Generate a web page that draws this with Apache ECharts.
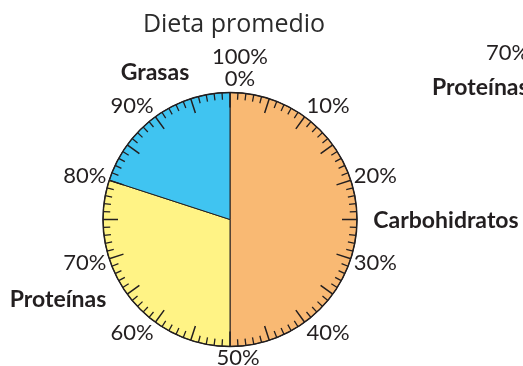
<!DOCTYPE html>
<html>
<head>
<meta charset="utf-8">
<script src="https://cdn.jsdelivr.net/npm/echarts@6/dist/echarts.min.js"></script>
<style>html,body{margin:0;padding:0;background:#fff}#c{width:523px;height:366px}</style>
</head>
<body>
<div id="c"></div>
<script>
const categories = ['Carbohidratos', 'Proteínas', 'Grasas'];
const values = [50, 30, 20];
const colors = ['#F9B973', '#FFF385', '#40C4F1'];
const tickValues = [0, 10, 20, 30, 40, 50, 60, 70, 80, 90];
const labelPos = [[446, 221], [58, 300], [155, 73]];
const sideTexts = [{text: '70%', x: 486, y: 55, bold: false}, {text: 'Proteínas', x: 432, y: 89, bold: true}];

const C = [230, 219.5], R = 127;
const ink = '#231f20';
const FS = 22;
const chart = echarts.init(document.getElementById('c'));
chart.setOption({
  animation: false,
  title: {text: 'Dieta promedio', left: 229, top: 7, textAlign: 'center',
    textStyle: {fontFamily: 'Open Sans', fontWeight: 'normal', fontSize: 25, color: '#2b2b2b'}},
  polar: {center: C, radius: [0, R]},
  radiusAxis: {show: false, min: 0, max: 1},
  angleAxis: {
    type: 'value', min: 0, max: 100, interval: 5, startAngle: 90, clockwise: true, z: 10,
    axisLine: {show: true, lineStyle: {color: ink, width: 1.5}},
    axisTick: {show: true, inside: true, length: 15, lineStyle: {color: ink, width: 1.5}},
    minorTick: {show: true, splitNumber: 5, length: 7, lineStyle: {color: ink, width: 1.3}},
    splitLine: {show: false},
    axisLabel: {
      margin: 3, color: ink, fontFamily: 'Lato', fontSize: FS,
      formatter: function (v) {
        if (tickValues.indexOf(v) < 0) return '';
        if (v === 0) return '{t|100%}\n{t|0%}';
        if (v === 50) return '{b|50%}';
        if (v === 20 || v === 30 || v === 70 || v === 80) return '{h|' + v + '%}';
        return '{d|' + v + '%}';
      },
      rich: {
        t: {lineHeight: 22, fontFamily: 'Lato', fontSize: FS, color: ink, padding: [0, 0, 0, 20]},
        b: {lineHeight: 16, fontFamily: 'Lato', fontSize: FS, color: ink, padding: [0, 0, 0, 16]},
        h: {lineHeight: 7, fontFamily: 'Lato', fontSize: FS, color: ink},
        d: {lineHeight: 16, fontFamily: 'Lato', fontSize: FS, color: ink}
      }
    }
  },
  series: [{
    type: 'pie', center: C, radius: R, startAngle: 90, clockwise: true,
    silent: true, emphasis: {disabled: true},
    itemStyle: {borderColor: ink, borderWidth: 1},
    label: {show: true, position: 'inside', overflow: 'none', fontFamily: 'Lato', fontWeight: 'bold', fontSize: 23, color: ink,
      formatter: '{b}'},
    labelLine: {show: false},
    labelLayout: function (p) {
      const q = labelPos[p.dataIndex];
      return {x: q[0], y: q[1], align: 'center', verticalAlign: 'middle'};
    },
    data: categories.map((n, i) => ({name: n, value: values[i], itemStyle: {color: colors[i]}}))
  }],
  graphic: sideTexts.map(s => ({type: 'text', left: s.x, top: s.y - 13,
    style: {text: s.text, fontFamily: 'Lato', fontSize: s.bold ? 23 : FS, fontWeight: s.bold ? 'bold' : 'normal', fill: ink}}))
});
</script>
</body>
</html>
